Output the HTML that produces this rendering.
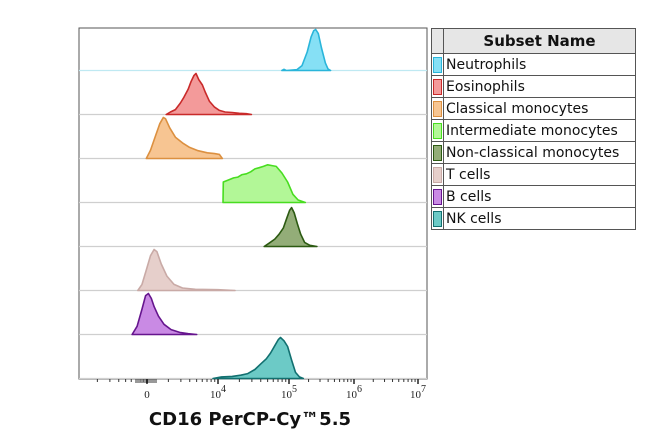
<!DOCTYPE html>
<html><head><meta charset="utf-8"><style>
body{margin:0;background:#fff;width:650px;height:440px;overflow:hidden}
svg{position:absolute;left:0;top:0}
.leg{position:absolute;left:431px;top:28px;width:205px;border:1px solid #444;border-collapse:collapse;font-family:"DejaVu Sans","Liberation Sans",sans-serif;font-size:14px;color:#111}
.leg td{border:1px solid #555;height:21px;padding:0 0 0 2px;white-space:nowrap}
.leg td.sw{width:9px;padding:0 0 0 1px}
.leg td.sw div{width:7px;height:14px;border:1px solid #666}
.leg th{background:#e6e6e6;font-weight:bold;font-size:15px;height:22px;border:1px solid #555}
</style></head><body>
<svg id="chart" width="650" height="440"></svg>
<table class="leg">
<tr><th style="width:9px"></th><th>Subset Name</th></tr>
<tbody id="legbody"></tbody>
</table>
<script>
const subsets=["Neutrophils","Eosinophils","Classical monocytes","Intermediate monocytes","Non-classical monocytes","T cells","B cells","NK cells"];
const fills=["#86e0f5","#f39a9a","#f7c592","#b2f797","#93ad78","#e6cfcb","#c98ae4","#6ccac6"];
const strokes=["#2ab5da","#c92a2a","#dc9040","#48dd20","#2c5a12","#c9aaa6","#66158e","#127070"];
// each series: log-decade positions (u) and relative heights
const seriesU=[
[4.90,4.93,4.96,5.12,5.20,5.28,5.34,5.38,5.41,5.45,5.50,5.56,5.60,5.64],
[3.27,3.33,3.40,3.47,3.52,3.58,3.62,3.66,3.69,3.73,3.78,3.82,3.88,3.95,4.02,4.10,4.20,4.30,4.40,4.47],
[2.99,3.05,3.12,3.18,3.23,3.26,3.32,3.40,3.50,3.60,3.72,3.85,3.95,4.02,4.06],
[4.07,4.075,4.15,4.22,4.28,4.34,4.40,4.46,4.52,4.58,4.64,4.70,4.76,4.82,4.90,4.98,5.06,5.14,5.25],
[4.65,4.72,4.80,4.86,4.92,4.97,5.01,5.04,5.08,5.13,5.18,5.24,5.32,5.43],
[2.87,2.93,2.99,3.05,3.10,3.14,3.20,3.28,3.38,3.50,3.68,4.00,4.24],
[2.79,2.86,2.93,2.98,3.02,3.06,3.10,3.16,3.24,3.34,3.46,3.58,3.70],
[3.93,4.05,4.20,4.32,4.42,4.52,4.60,4.68,4.74,4.80,4.85,4.88,4.93,4.98,5.04,5.10,5.16,5.22]
];
const seriesH=[
[0,0.03,0,0.02,0.12,0.45,0.82,0.97,1.0,0.9,0.55,0.18,0.04,0],
[0,0.06,0.12,0.28,0.42,0.62,0.8,0.95,1.0,0.85,0.72,0.55,0.32,0.18,0.1,0.06,0.05,0.03,0.02,0],
[0,0.2,0.55,0.85,1.0,0.97,0.75,0.52,0.38,0.27,0.19,0.14,0.12,0.1,0],
[0,0.5,0.55,0.6,0.62,0.68,0.7,0.75,0.82,0.85,0.88,0.92,0.9,0.88,0.72,0.5,0.2,0.06,0],
[0,0.08,0.18,0.3,0.45,0.7,0.88,0.95,0.82,0.55,0.3,0.1,0.03,0],
[0,0.15,0.5,0.85,1.0,0.95,0.65,0.35,0.15,0.06,0.03,0.02,0],
[0,0.2,0.62,0.95,1.0,0.88,0.68,0.45,0.25,0.12,0.05,0.02,0],
[0,0.04,0.05,0.08,0.12,0.22,0.35,0.48,0.62,0.8,0.95,1.0,0.92,0.78,0.45,0.15,0.04,0]
];
const tickU=[3,4,5,6,7];
const tickLabels=["0","10","10","10","10"];
const tickExp=["","4","5","6","7"];
const NS="http://www.w3.org/2000/svg";
const svg=document.getElementById("chart");
const L=79,R=427,T=28,B=379,lane=44;
function xs(u){
 if(u<=5) return 218+(u-4)*71;
 if(u<=6) return 289+(u-5)*65;
 return 354+(u-6)*64;
}
function mk(tag,attrs){const e=document.createElementNS(NS,tag);for(const k in attrs)e.setAttribute(k,attrs[k]);svg.appendChild(e);return e;}
const frame=mk("rect",{x:L,y:T,width:R-L,height:B-T,fill:"none",stroke:"#555","stroke-width":1});


subsets.forEach((name,i)=>{
 const base=T+lane*(i+1)-1.5;
 const bl=mk("line",{x1:L,x2:R,y1:base,y2:base,stroke:i==0?"#bfe9f2":"#cfcfcf","stroke-width":1.2});
 
 
 const us=seriesU[i],hs=seriesH[i];
 let d="M"+xs(us[0]).toFixed(1)+","+base;
 for(let k=0;k<us.length;k++) d+=" L"+xs(us[k]).toFixed(1)+","+(base-hs[k]*41).toFixed(1);
 d+=" L"+xs(us[us.length-1]).toFixed(1)+","+base+" Z";
 const p=mk("path",{d:d,fill:fills[i],stroke:strokes[i],"stroke-width":1.6,"stroke-linejoin":"round"});
 
 
});
// minor ticks
for(let dec=2;dec<7;dec++){for(let m=2;m<10;m++){const u=dec+Math.log10(m);if(u<2.3)continue;const x=xs(u);
 const t=mk("line",{x1:x,x2:x,y1:B,y2:B+3,stroke:"#333","stroke-width":1});
 
 }}
for(let x=136;x<=156;x+=2){const t=mk("line",{x1:x,x2:x,y1:B,y2:B+4,stroke:"#333","stroke-width":1});
 
 }
tickU.forEach((u,i)=>{const x=xs(u);
 const t=mk("line",{x1:x,x2:x,y1:B,y2:B+5,stroke:"#222","stroke-width":1.5});
 
 
 const tx=mk("text",{x:x,y:398,"text-anchor":"middle","font-family":"Liberation Serif, serif","font-size":11,fill:"#222"});
 tx.textContent=tickLabels[i];
 if(tickExp[i]){const s=document.createElementNS(NS,"tspan");s.setAttribute("dy","-6");s.setAttribute("font-size","10");s.textContent=tickExp[i];tx.appendChild(s);}
 
 
});
const title=mk("text",{x:250,y:425,"text-anchor":"middle","font-family":"DejaVu Sans, Liberation Sans, sans-serif","font-size":18,"font-weight":"bold",fill:"#111"});
title.textContent="CD16 PerCP-Cy™5.5";


const lb=document.getElementById("legbody");
subsets.forEach((name,i)=>{
 const tr=document.createElement("tr");
 
 
 tr.innerHTML='<td class="sw"><div style="background:'+fills[i]+';border-color:'+strokes[i]+'"></div></td><td>'+name+'</td>';
 lb.appendChild(tr);
});
</script>
</body></html>
